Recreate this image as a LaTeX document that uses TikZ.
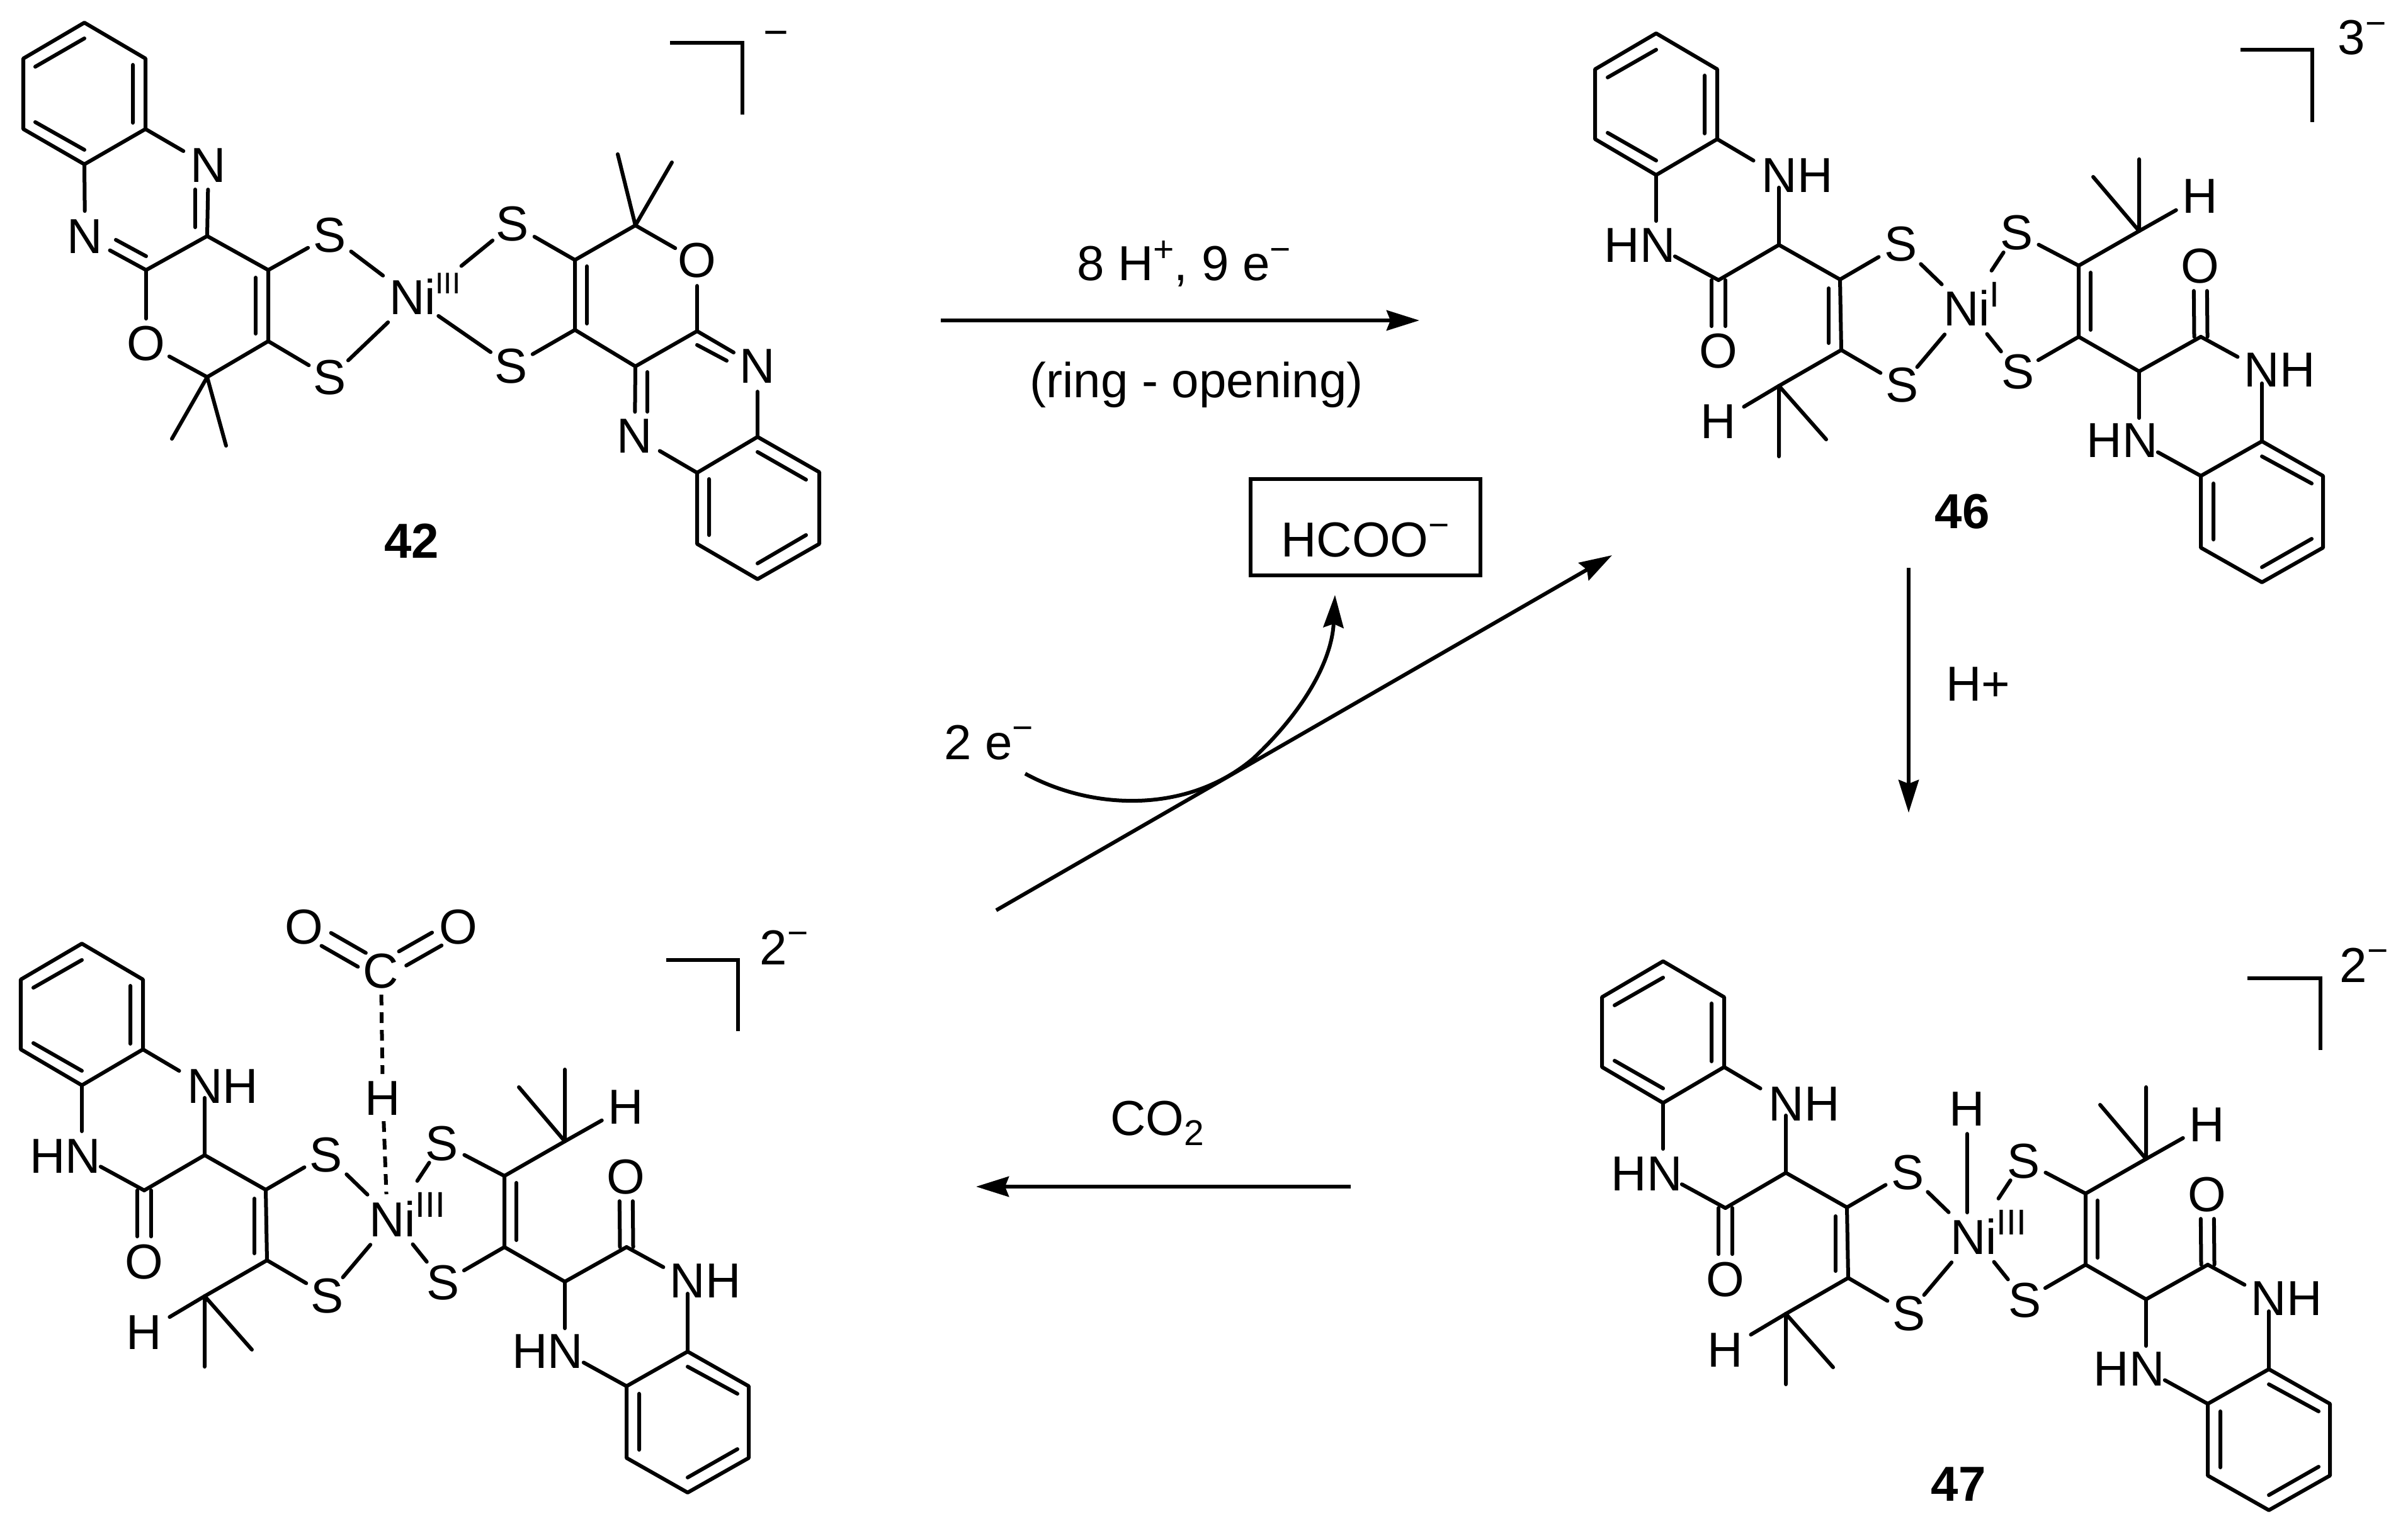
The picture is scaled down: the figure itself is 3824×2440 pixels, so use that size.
\documentclass[tikz,border=0pt]{standalone}
\usepackage{fontspec}
\setmainfont{Liberation Sans}
\usetikzlibrary{arrows.meta,calc}
\newcommand{\supT}[1]{\raisebox{.3cm}{\fontsize{16.2}{18}\selectfont #1}}
\newcommand{\subT}[1]{\raisebox{-.16cm}{\fontsize{16.2}{18}\selectfont #1}}
\tikzset{
  bond/.style={line width=.06cm,line cap=round,line join=round},
  arrowline/.style={line width=.06cm,-{Stealth[length=.52cm,width=.32cm,inset=.06cm]}},
  sa/.style={shorten <=#1*0.01cm},
  sb/.style={shorten >=#1*0.01cm},
  lab/.style={anchor=base,inner sep=0pt,outer sep=0pt,font=\fontsize{22.2}{26}\selectfont},
  nilab/.style={lab,anchor=base west},
  numlab/.style={anchor=base,inner sep=0pt,font=\fontsize{22.2}{26}\selectfont\bfseries},
}
% common skeleton of the three ring-opened complexes (coordinates of compound 46)
\newcommand{\skel}[4]{%
\begin{scope}[shift={(#2,#3)},name prefix=#1]
  \coordinate (a1) at (2630,53); \coordinate (a2) at (2727,110); \coordinate (a3) at (2727,221);
  \coordinate (a4) at (2630,278); \coordinate (a5) at (2533,221); \coordinate (a6) at (2533,110);
  \coordinate (n1) at (2825,279); \coordinate (n2) at (2630,391);
  \coordinate (c1) at (2825,389); \coordinate (c2) at (2729,445);
  \coordinate (c3) at (2922,444); \coordinate (c4) at (2924,556);
  \coordinate (c5) at (3301,422); \coordinate (c6) at (3301,535);
  \coordinate (c7) at (3397,367); \coordinate (c8) at (3397,590); \coordinate (c9) at (3495,535);
  \coordinate (c10) at (2825,613);
  \coordinate (m1) at (3397,253); \coordinate (m2) at (3324,281);
  \coordinate (m3) at (2825,725); \coordinate (m4) at (2900,698);
  \coordinate (n3) at (3592,588); \coordinate (n4) at (3397,702);
  \coordinate (b1) at (3592,701); \coordinate (b2) at (3689,756); \coordinate (b3) at (3689,870);
  \coordinate (b4) at (3592,925); \coordinate (b5) at (3495,870); \coordinate (b6) at (3495,756);
  \coordinate (niC) at (3123,490);
  \node[lab] (NH1) at (2854,306) {NH};
  \node[lab] (HN1) at (2604,417) {HN};
  \node[lab] (O1) at (2729,585) {O};
  \node[lab] (S1) at (3018,415) {S};
  \node[lab] (S2) at (3020,639) {S};
  \node[lab] (S3) at (3202,397) {S};
  \node[lab] (S4) at (3204,618) {S};
  \node[nilab] (Ni) at (3086,518) {Ni\supT{#4}};
  \node[lab] (H1) at (3494,339) {H};
  \node[lab] (H2) at (2729,697) {H};
  \node[lab] (O2) at (3494,450) {O};
  \node[lab] (NH2) at (3620,615) {NH};
  \node[lab] (HN2) at (3370,727) {HN};
  \draw[bond] (a1)--(a2)--(a3)--(a4)--(a5)--(a6)--cycle;
  \draw[bond] (2553,123)--(2630,79) (2707,120)--(2707,212) (2553,211)--(2630,255);
  \draw[bond,sb=47] (a3)--(n1);
  \draw[bond,sb=40] (a4)--(n2);
  \draw[bond,sb=19] (c1)--(n1);
  \draw[bond] (c2)--(c1)--(c3)--(c4);
  \draw[bond,sa=34] (n2)--(c2);
  \draw[bond,sb=40] ([xshift=-.11cm]c2)--([xshift=-.11cm]O1.center);
  \draw[bond,sb=40] ([xshift=.11cm]c2)--([xshift=.11cm]O1.center);
  \draw[bond] (2904,458)--(2904,545);
  \draw[bond,sb=40] (c3)--(S1.center);
  \draw[bond,sb=39] (c4)--(S2.center);
  \draw[bond,sa=45,sb=55] (S1.center)--(niC);
  \draw[bond,sa=38,sb=54] (S2.center)--(niC);
  \draw[bond,sa=37,sb=72] (S3.center)--(niC);
  \draw[bond,sa=42,sb=52] (S4.center)--(niC);
  \draw[bond] (c7)--(c5)--(c6)--(c8)--(c9);
  \draw[bond] (3320,433)--(3320,524);
  \draw[bond,sb=40] (c5)--(S3.center);
  \draw[bond,sb=38] (c6)--(S4.center);
  \draw[bond] (m1)--(c7)--(m2);
  \draw[bond,sb=44] (c7)--(H1.center);
  \draw[bond,sb=44] (c9)--(n3);
  \draw[bond,sa=21] (n3)--(b1);
  \draw[bond,sb=39] ([xshift=-.105cm]c9)--([xshift=-.105cm]O2.center);
  \draw[bond,sb=39] ([xshift=.105cm]c9)--([xshift=.105cm]O2.center);
  \draw[bond,sb=38] (c8)--(n4);
  \draw[bond,sa=34] (n4)--(b6);
  \draw[bond] (b1)--(b2)--(b3)--(b4)--(b5)--(b6)--cycle;
  \draw[bond] (3592,725)--(3671,768) (3671,856)--(3592,901) (3515,768)--(3515,857);
  \draw[bond] (c4)--(c10)--(m3) (c10)--(m4);
  \draw[bond,sb=47] (c10)--(H2.center);
\end{scope}}
\begin{document}
\begin{tikzpicture}[x=.01cm,y=-.01cm]
\useasboundingbox (0,0) rectangle (3824,2440);
%% ---------- compound 42
\begin{scope}[name prefix=g-]
  \coordinate (a1) at (134,36); \coordinate (a2) at (231,93); \coordinate (a3) at (231,205);
  \coordinate (a4) at (134,261); \coordinate (a5) at (37,205); \coordinate (a6) at (37,93);
  \coordinate (c1) at (329,375); \coordinate (c2) at (232,429); \coordinate (c3) at (426,429);
  \coordinate (c4) at (426,542); \coordinate (c5) at (329,599);
  \coordinate (m1) at (273,697); \coordinate (m2) at (359,708);
  \coordinate (c6) at (913,413); \coordinate (c7) at (913,524); \coordinate (c8) at (1009,358);
  \coordinate (m3) at (981,245); \coordinate (m4) at (1067,258);
  \coordinate (c9) at (1107,526); \coordinate (c10) at (1009,582);
  \coordinate (b1) at (1203,694); \coordinate (b2) at (1301,750); \coordinate (b3) at (1301,864);
  \coordinate (b4) at (1203,920); \coordinate (b5) at (1107,864); \coordinate (b6) at (1107,751);
  \coordinate (niC) at (656,474);
  \coordinate (niU) at (656,485);
  \node[lab] (N1) at (331,290) {N};
  \node[lab] (N2) at (135,403) {N};
  \node[lab] (O1) at (232,573) {O};
  \node[lab] (S1) at (524,401) {S};
  \node[lab] (S2) at (524,627) {S};
  \node[nilab] (Ni) at (618,500) {Ni\raisebox{.33cm}{\fontsize{13.5}{16}\selectfont III}};
  \node[lab] (S3) at (814,383) {S};
  \node[lab] (S4) at (812,609) {S};
  \node[lab] (O2) at (1107,441) {O};
  \node[lab] (N3) at (1203,609) {N};
  \node[lab] (N4) at (1008,720) {N};
  \draw[bond] (a1)--(a2)--(a3)--(a4)--(a5)--(a6)--cycle;
  \draw[bond] (56,106)--(134,61) (211,103)--(211,195) (56,194)--(134,238);
  \draw[bond,sb=46] (a3)--(N1.center);
  \draw[bond,sb=38] (c1)--(N1.center);
  \draw[bond] (310,361)--(310,301);
  \draw[bond,sb=41] (a4)--(N2.center);
  \draw[bond,sb=45] (c2)--(N2.center);
  \draw[bond] (232,407)--(184,381);
  \draw[bond] (c2)--(c1)--(c3)--(c4)--(c5)--(m1) (c5)--(m2);
  \draw[bond] (406,441)--(406,530);
  \draw[bond,sb=40] (c2)--(O1.center);
  \draw[bond,sa=42] (O1.center)--(c5);
  \draw[bond,sb=40] (c3)--(S1.center);
  \draw[bond,sb=39] (c4)--(S2.center);
  \draw[bond,sa=42,sb=60] (S1.center)--(niC);
  \draw[bond,sa=40,sb=55] (S2.center)--(niC);
  \draw[bond,sa=41,sb=99] (S3.center)--(niU);
  \draw[bond,sa=40,sb=49] (S4.center)--(niC);
  \draw[bond] (c8)--(c6)--(c7)--(c10)--(c9);
  \draw[bond] (932,423)--(932,514);
  \draw[bond,sb=40] (c6)--(S3.center);
  \draw[bond,sb=39] (c7)--(S4.center);
  \draw[bond] (m3)--(c8)--(m4);
  \draw[bond,sb=40] (c8)--(O2.center);
  \draw[bond,sa=40] (O2.center)--(c9);
  \draw[bond,sb=44] (c9)--(N3.center);
  \draw[bond] (1107,548)--(1154,573);
  \draw[bond,sb=39] (c10)--(N4.center);
  \draw[bond] (1028,591)--(1028,654);
  \draw[bond,sa=40] (N3.center)--(b1);
  \draw[bond,sa=46] (N4.center)--(b6);
  \draw[bond] (b1)--(b2)--(b3)--(b4)--(b5)--(b6)--cycle;
  \draw[bond] (1203,718)--(1280,762) (1280,850)--(1203,895) (1126,761)--(1126,850);
  \coordinate (k1) at (1064,68); \coordinate (k2) at (1179,68); \coordinate (k3) at (1179,182);
  \draw[bond,line cap=butt,line join=miter] (k1)--(k2)--(k3);
  \node[anchor=base,inner sep=0pt,font=\fontsize{19.4}{22}\selectfont] (ch) at (1232,75) {−};
  \node[numlab] (num) at (654,886) {42};
\end{scope}
%% ---------- compounds 46, 47 and the CO2 adduct
\skel{t-}{0}{0}{I}
\skel{r-}{11}{1474}{III}
\skel{l-}{-2500}{1446}{III}
%% 46 extras
\coordinate (tk1) at (3558,79); \coordinate (tk2) at (3672,79); \coordinate (tk3) at (3672,194);
\draw[bond,line cap=butt,line join=miter] (tk1)--(tk2)--(tk3);
\node[lab] (tch) at (3751,87) {3\supT{−}};
\node[numlab] (t46) at (3116,839) {46};
%% 47 extras
\coordinate (rk1) at (3569,1554); \coordinate (rk2) at (3685,1554); \coordinate (rk3) at (3685,1668);
\draw[bond,line cap=butt,line join=miter] (rk1)--(rk2)--(rk3);
\node[lab] (rch) at (3754,1560) {2\supT{−}};
\node[numlab] (r47) at (3110,2384) {47};
\node[lab] (rH) at (3124,1788) {H};
\draw[bond,sa=40,sb=38] (rH.center)--(rH.center |- r-niC);
%% CO2 adduct extras
\coordinate (lk1) at (1058,1525); \coordinate (lk2) at (1172,1525); \coordinate (lk3) at (1172,1638);
\draw[bond,line cap=butt,line join=miter] (lk1)--(lk2)--(lk3);
\node[lab] (lch) at (1245,1532) {2\supT{−}};
\node[lab] (oL) at (483,1499) {O};
\node[lab] (oR) at (728,1499) {O};
\node[lab] (cC) at (605,1569) {C};
\node[lab] (lH) at (608,1771) {H};
\draw[bond,sa=40,sb=37] ([shift={(8,-10)}]oL.center)--([shift={(8,-10)}]cC.center);
\draw[bond,sa=41,sb=33] ([shift={(-8,10)}]oL.center)--([shift={(-8,10)}]cC.center);
\draw[bond,sa=39,sb=42] ([shift={(-8,-10)}]oR.center)--([shift={(-8,-10)}]cC.center);
\draw[bond,sa=40,sb=37] ([shift={(8,10)}]oR.center)--([shift={(8,10)}]cC.center);
\draw[bond,line cap=butt,dash pattern=on .17cm off .11cm,sa=38,sb=38] (cC.center)--(lH.center);
\draw[bond,line cap=butt,dash pattern=on .17cm off .11cm,sa=37,sb=39] (lH.center)--([xshift=-.08cm]l-niC);
%% ---------- reaction arrows and labels
\coordinate (ar1a) at (1494,509); \coordinate (ar1b) at (2254,509);
\draw[arrowline] (ar1a)--(ar1b);
\node[lab] (top1) at (1880,446) {8 H\supT{+}, 9 e\supT{−}};
\node[lab] (top2) at (1900,632) {(ring - opening)};
\coordinate (ar2a) at (3031,902); \coordinate (ar2b) at (3031,1291);
\draw[arrowline] (ar2a)--(ar2b);
\node[lab] (hplus) at (3141,1113) {H+};
\coordinate (ar3a) at (2145,1885); \coordinate (ar3b) at (1550,1885);
\draw[arrowline] (ar3a)--(ar3b);
\node[lab] (co2) at (1838,1803) {CO\subT{2}};
\coordinate (ar4a) at (1582,1446); \coordinate (ar4b) at (2560,882);
\draw[arrowline] (ar4a)--(ar4b);
\node[draw,line width=.06cm,inner sep=0pt,minimum width=3.65cm,minimum height=1.53cm] (box) at (2168.5,837.5) {};
\node[lab] (hcoo) at (2168,884) {HCOO\supT{−}};
\node[lab] (twoe) at (1570,1206) {2 e\supT{−}};
\coordinate (cu1) at (1628,1229); \coordinate (cu2) at (1990,1205); \coordinate (cu3) at (2120,945);
\draw[arrowline] (cu1) .. controls (1740,1290) and (1890,1290) .. (cu2) .. controls (2070,1130) and (2115,1050) .. (cu3);
\end{tikzpicture}
\end{document}
